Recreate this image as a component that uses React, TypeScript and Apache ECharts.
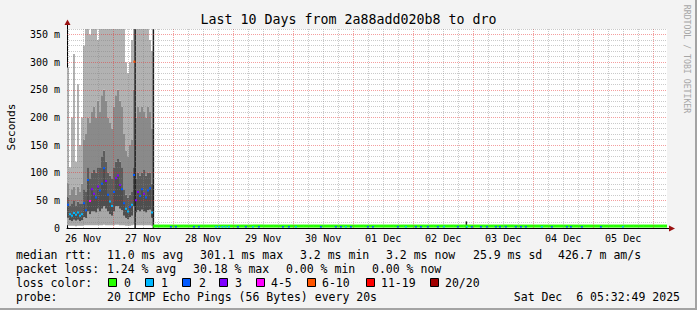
import React, { useEffect, useRef } from "react";
import * as echarts from "echarts";

// ---------- time frame (hours counted from 26 Nov 00:00) ----------
const START_HOUR = 5 + 32 / 60 + 49 / 3600; // 26 Nov 05:32:49
const END_HOUR = START_HOUR + 240; // 06 Dec 05:32:49

const dayLabels = ["26 Nov", "27 Nov", "28 Nov", "29 Nov", "30 Nov", "01 Dec", "02 Dec", "03 Dec", "04 Dec", "05 Dec"];
const dayLabelHours = [12, 36, 60, 84, 108, 132, 156, 180, 204, 228];

// ---------- smoke region (0.8 h bins starting at START_HOUR), values in ms ----------
const SMOKE_BIN_H = 0.8;
const smokeMin = [5, 4, 4, 4, 3, 4, 4, 4, 5, 5, 5, 5, 5, 5, 5, 5, 5, 5, 6, 5, 5, 5, 5, 5, 6, 6, 5, 5, 5, 4, 4, 4, 5, 6, 5, 5, 5, 5, 5, 5, 5, 5, 4];
const smokeQ1 = [18, 14, 12, 15, 13, 15, 12, 14, 20, 18, 30, 25, 30, 30, 28, 35, 30, 35, 40, 35, 30, 25, 22, 30, 40, 40, 35, 32, 22, 18, 16, 20, 22, 40, 28, 32, 30, 33, 30, 28, 32, 33, 18];
const smokeMed = [42, 25, 22, 27, 24, 28, 22, 25, 45, 32, 87, 49, 70, 62, 55, 75, 68, 80, 108, 85, 60, 48, 40, 65, 90, 95, 78, 70, 45, 35, 30, 38, 42, 96, 50, 65, 58, 70, 62, 55, 68, 72, 28];
const smokeQ3 = [55, 40, 45, 50, 40, 48, 45, 45, 70, 65, 110, 90, 100, 105, 100, 110, 110, 130, 140, 120, 100, 95, 90, 110, 120, 125, 120, 110, 70, 60, 55, 60, 65, 110, 90, 100, 95, 100, 105, 95, 100, 100, 80];
const smokeP90 = [80, 60, 70, 75, 60, 75, 65, 80, 160, 170, 200, 190, 210, 220, 200, 230, 210, 240, 250, 230, 200, 190, 180, 220, 240, 250, 230, 220, 170, 140, 130, 150, 160, 250, 200, 220, 210, 220, 210, 200, 220, 210, 180];
const smokeMax = [290, 110, 200, 315, 120, 260, 150, 200, 330, 360, 360, 350, 360, 360, 360, 340, 360, 360, 360, 360, 360, 360, 360, 360, 360, 360, 360, 360, 360, 300, 280, 300, 340, 360, 360, 360, 360, 360, 360, 360, 360, 340, 320];
const smokeLoss = [2, 1, 1, 1, 1, 1, 1, 1, 2, 2, 2, 4, 3, 3, 2, 3, 2, 2, 2, 3, 2, 1, 1, 2, 3, 3, 3, 2, 2, 1, 1, 2, 1, 2, 3, 3, 2, 2, 3, 2, 2, 2, 1];

// dark full-height streaks and isolated medians
const streakHours = [32.5, 39.8, 165.0];
const streakTops = [360, 360, 12];
const extraMedHours = [32.5];
const extraMed = [301];
const extraLoss = [8];

// ---------- quiet region (4 h bins from hour 40) ----------
const LOW_START = 40;
const LOW_BIN_H = 4;
const lowMedians = [3.5, 3.5, 3.5, 3.5, 3.5, 3.5, 3.5, 3.5, 3.5, 3.5, 3.5, 3.5, 3.5, 3.5, 3.5, 3.5, 3.5, 3.5, 3.5, 3.5, 3.5, 3.5, 3.5, 3.5, 3.5, 3.5,
  3.5, 3.5, 3.5, 3.5, 3.5, 3.5, 3.5, 3.5, 3.5, 3.5, 3.5, 3.5, 3.5, 3.5, 3.5, 3.5, 3.5, 3.5, 3.5, 3.5, 3.5, 3.5, 3.5, 3.5, 3.5, 3.5];
const lossHours = [46.7, 48.7, 55.9, 57.9, 64.7, 66.0, 67.3, 68.6, 69.9, 73.5, 76.7, 79.5, 81.9, 91.5, 93.9, 96.7, 106.7, 112.7, 114.7, 116.7, 118.7, 125.5, 127.5, 137.5, 140.7, 144.7, 146.7, 149.5, 153.5, 155.9, 161.5, 165.1, 167.1, 170.7, 173.1, 176.7, 178.3, 180.7, 184.7, 186.7, 188.7, 195.1, 199.1, 205.1, 206.7, 211.1, 218.7, 227.5];
const lossLevels = [2, 2, 2, 2, 1, 1, 1, 1, 1, 2, 2, 1, 2, 2, 2, 1, 2, 2, 2, 1, 2, 2, 2, 2, 1, 2, 2, 2, 2, 1, 2, 1, 2, 2, 2, 2, 2, 2, 2, 2, 2, 1, 2, 2, 2, 2, 2, 1];
const LOSS_MEDIAN = 3.5;

// ---------- legend texts ----------
const title = "Last 10 Days from 2a88add020b8 to dro";
const rttItems = ["median rtt:", "11.0 ms avg", "301.1 ms max", "3.2 ms min", "3.2 ms now", "25.9 ms sd", "426.7 m am/s"];
const lossItems = ["packet loss:", "1.24 % avg", "30.18 % max", "0.00 % min", "0.00 % now"];
const lossColorLabels = ["0", "1", "2", "3", "4-5", "6-10", "11-19", "20/20"];
const lossColors = ["#26ff00", "#00b8ff", "#0059ff", "#7e00ff", "#ff00ff", "#ff5500", "#ff0000", "#a10000"];
const probeText = "20 ICMP Echo Pings (56 Bytes) every 20s";
const dateText = "Sat Dec  6 05:32:49 2025";

function lossColor(n: number): string {
  if (n <= 0) return lossColors[0];
  if (n === 1) return lossColors[1];
  if (n === 2) return lossColors[2];
  if (n === 3) return lossColors[3];
  if (n <= 5) return lossColors[4];
  if (n <= 10) return lossColors[5];
  if (n <= 19) return lossColors[6];
  return lossColors[7];
}

const MONO = '"DejaVu Sans Mono", monospace';
const smokeShades = ["#a8a8a8", "#4e4e4e", "#5c5c5c", "#8a8a8a", "#b2b2b2"];
const GRID_MINOR = "rgba(128,128,128,0.42)";
const GRID_MAJOR = "rgba(230,40,40,0.45)";

export default function App() {
  const ref = useRef<HTMLDivElement>(null);
  useEffect(() => {
    if (!ref.current) return;
    const chart = echarts.init(ref.current, undefined, { renderer: "svg" });

    const gridLines: any[] = [];
    for (let h = 6; h < END_HOUR; h += 6) {
      if (h <= START_HOUR) continue;
      const major = h % 24 === 0;
      gridLines.push({ xAxis: h, lineStyle: { color: major ? GRID_MAJOR : GRID_MINOR, type: [1, 1], width: 1 } });
    }
    for (let v = 10; v <= 360; v += 10) {
      const major = v % 50 === 0;
      gridLines.push({ yAxis: v, lineStyle: { color: major ? GRID_MAJOR : GRID_MINOR, type: [1, 1], width: 1 } });
    }

    const txt = (text: string, x: number, y: number, extra: any = {}) => ({
      type: "text",
      x,
      y,
      silent: true,
      style: { text, font: `11.5px ${MONO}`, fill: "#000", align: "left", verticalAlign: "middle", ...extra },
    });

    const rttX = [16, 107, 200, 300, 386, 473, 558];
    const lossX = [16, 107, 193, 286, 372];
    const boxX = [108.5, 145.5, 182.5, 219.5, 256.5, 307.5, 366.5, 430.5];
    const boxLabelX = [124, 161, 199, 235, 271, 322, 381, 445];

    const graphic: any[] = [
      txt(title, 348.5, 19.5, { font: `13.3px ${MONO}`, align: "center" }),
      txt("Seconds", 11, 127, { font: `11.2px ${MONO}`, align: "center" }),
      { ...txt("RRDTOOL / TOBI OETIKER", 687, 59, { font: `8.2px ${MONO}`, fill: "#a6a6a6", align: "center" }) },
      ...rttItems.map((t, i) => txt(t, rttX[i], 254.5)),
      ...lossItems.map((t, i) => txt(t, lossX[i], 268.5)),
      txt("loss color:", 16, 282.5),
      ...lossColorLabels.map((t, i) => txt(t, boxLabelX[i], 282.5)),
      ...lossColors.map((c, i) => ({
        type: "rect",
        silent: true,
        shape: { x: boxX[i], y: 278.5, width: 8, height: 8 },
        style: { fill: c, stroke: "#000", lineWidth: 1 },
      })),
      txt("probe:", 16, 296.5),
      txt(probeText, 107, 296.5),
      txt(dateText, 680, 296.5, { align: "right" }),
      // axis extensions and arrows
      { type: "line", silent: true, shape: { x1: 67.5, y1: 22, x2: 67.5, y2: 29 }, style: { stroke: "#000", lineWidth: 1 } },
      { type: "line", silent: true, shape: { x1: 667, y1: 228.5, x2: 670, y2: 228.5 }, style: { stroke: "#000", lineWidth: 1 } },
      { type: "polygon", silent: true, shape: { points: [[64.5, 25], [70.5, 25], [67.5, 19.5]] }, style: { fill: "#9a1010" } },
      { type: "polygon", silent: true, shape: { points: [[669, 225.5], [669, 231.5], [675, 228.5]] }, style: { fill: "#9a1010" } },
    ];
    graphic[2].rotation = -Math.PI / 2;
    graphic[1].rotation = Math.PI / 2;

    const smokeData = smokeMed.map((m, i) => [START_HOUR + i * SMOKE_BIN_H, m, i]);
    const medData = smokeMed
      .map((m, i) => [START_HOUR + i * SMOKE_BIN_H + SMOKE_BIN_H / 2, m, smokeLoss[i]])
      .concat(extraMed.map((m, i) => [extraMedHours[i], m, extraLoss[i]]));
    const streakData = streakHours.map((h, i) => [h, streakTops[i]]);
    const lowData = lowMedians.map((m, i) => [LOW_START + i * LOW_BIN_H, m]);
    const lossData = lossHours.map((h, i) => [h, LOSS_MEDIAN, lossLevels[i]]);

    const option: any = {
      animation: false,
      backgroundColor: "transparent",
      grid: { left: 67, right: 30, top: 29, bottom: 82, show: true, backgroundColor: "#ffffff", borderWidth: 0 },
      xAxis: {
        type: "value",
        min: START_HOUR,
        max: END_HOUR,
        splitLine: { show: false },
        axisTick: { show: false },
        axisLine: { show: true, lineStyle: { color: "#000", width: 1 } },
        axisLabel: {
          customValues: dayLabelHours,
          formatter: (v: number) => {
            const idx = dayLabelHours.findIndex((h) => Math.abs(h - v) < 0.01);
            return idx >= 0 ? dayLabels[idx] : "";
          },
          color: "#000",
          fontFamily: MONO,
          fontSize: 10,
          margin: 5,
        },
      },
      yAxis: {
        type: "value",
        min: 0,
        max: 360,
        interval: 50,
        splitLine: { show: false },
        axisTick: { show: false },
        axisLine: { show: true, lineStyle: { color: "#000", width: 1 } },
        axisLabel: {
          showMaxLabel: false,
          formatter: (v: number) => (v === 0 ? "0" : `${v} m`),
          color: "#000",
          fontFamily: MONO,
          fontSize: 10,
          margin: 7,
        },
      },
      graphic,
      series: [
        {
          type: "custom",
          name: "smoke",
          z: 1,
          clip: true,
          silent: true,
          data: smokeData,
          encode: { x: 0, y: 1 },
          renderItem: (params: any, api: any) => {
            const i = api.value(2);
            const h0 = api.value(0);
            const h1 = h0 + SMOKE_BIN_H;
            const lv = [smokeMin[i], smokeQ1[i], smokeMed[i], smokeQ3[i], smokeP90[i], smokeMax[i]];
            const children: any[] = [];
            for (let k = 0; k < 5; k++) {
              const a = api.coord([h0, lv[k]]);
              const b = api.coord([h1, lv[k + 1]]);
              children.push({
                type: "rect",
                shape: { x: a[0], y: b[1], width: b[0] - a[0], height: a[1] - b[1] },
                style: { fill: smokeShades[k] },
              });
            }
            return { type: "group", children };
          },
        },
        {
          type: "custom",
          name: "streaks",
          z: 2,
          clip: true,
          silent: true,
          data: streakData,
          encode: { x: 0, y: 1 },
          renderItem: (params: any, api: any) => {
            const a = api.coord([api.value(0), 0]);
            const b = api.coord([api.value(0) + 0.6, api.value(1)]);
            return {
              type: "rect",
              shape: { x: a[0], y: b[1], width: b[0] - a[0], height: a[1] - b[1] },
              style: { fill: "#1e1e1e" },
            };
          },
        },
        {
          type: "custom",
          name: "quiet median",
          z: 3,
          clip: true,
          silent: true,
          data: lowData,
          encode: { x: 0, y: 1 },
          renderItem: (params: any, api: any) => {
            const a = api.coord([api.value(0), api.value(1)]);
            const b = api.coord([api.value(0) + LOW_BIN_H, api.value(1)]);
            return {
              type: "rect",
              shape: { x: a[0], y: a[1] - 1.5, width: b[0] - a[0] + 0.3, height: 3 },
              style: { fill: lossColors[0] },
            };
          },
        },
        {
          type: "custom",
          name: "quiet loss",
          z: 4,
          clip: true,
          silent: true,
          data: lossData,
          encode: { x: 0, y: 1 },
          renderItem: (params: any, api: any) => {
            const a = api.coord([api.value(0), api.value(1)]);
            const b = api.coord([api.value(0) + 0.8, api.value(1)]);
            return {
              type: "rect",
              shape: { x: a[0], y: a[1], width: b[0] - a[0], height: 1.5 },
              style: { fill: lossColor(api.value(2)) },
            };
          },
        },
        {
          type: "custom",
          name: "median",
          z: 5,
          clip: true,
          silent: true,
          data: medData,
          encode: { x: 0, y: 1 },
          renderItem: (params: any, api: any) => {
            const c = api.coord([api.value(0), api.value(1)]);
            return {
              type: "rect",
              shape: { x: c[0] - 1, y: c[1] - 1, width: 2, height: 2 },
              style: { fill: lossColor(api.value(2)) },
            };
          },
        },
        {
          type: "line",
          name: "grid",
          data: [],
          z: 10,
          silent: true,
          markLine: {
            silent: true,
            symbol: ["none", "none"],
            label: { show: false },
            emphasis: { disabled: true },
            data: gridLines,
          },
        },
      ],
    };
    chart.setOption(option);
    return () => chart.dispose();
  }, []);

  return (
    <div
      style={{
        position: "fixed",
        left: 0,
        top: 0,
        width: 697,
        height: 310,
        boxSizing: "border-box",
        background: "#f3f3f3",
        borderRight: "2px solid #a3a3a3",
        borderBottom: "2px solid #a3a3a3",
        overflow: "hidden",
      }}
    >
      <div ref={ref} style={{ position: "absolute", left: 0, top: 0, width: 697, height: 310 }} />
    </div>
  );
}
